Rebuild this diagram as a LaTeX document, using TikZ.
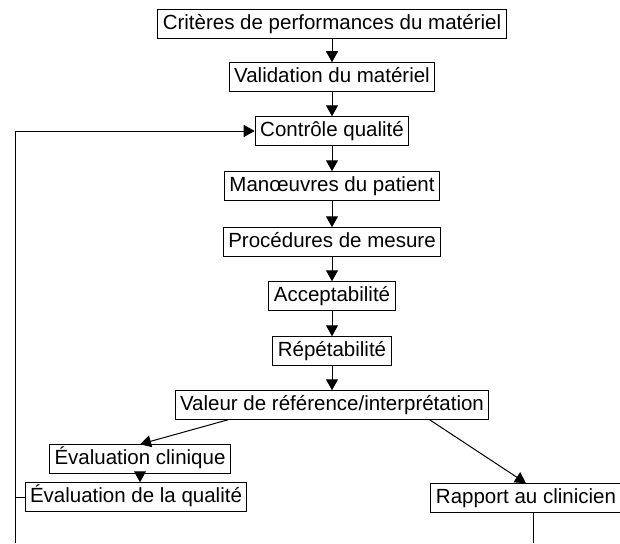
\documentclass[tikz,border=0pt]{standalone}
\usepackage{fontspec}
\setmainfont{Liberation Sans}
\usetikzlibrary{arrows.meta,calc}

\tikzset{
    boite/.style={draw, line width=1pt, inner xsep=5pt, inner ysep=4.5pt,
        text height=15pt, text depth=4.5pt, font=\fontsize{20.5}{24}\selectfont},
    fleche/.style={line width=1pt, -{Triangle[width=12pt,length=11pt]}},
    trait/.style={line width=1pt},
}

\begin{document}
\begin{tikzpicture}[x=1pt,y=-1pt]
    \useasboundingbox (0,0) rectangle (620,543);
    \node[boite] (criteres) at (332,24) {Critères de performances du matériel};
    \node[boite] (validation) at (332,77) {Validation du matériel};
    \node[boite] (controle) at (332,131) {Contrôle qualité};
    \node[boite] (manoeuvres) at (332,186) {Manœuvres du patient};
    \node[boite] (procedures) at (332,242) {Procédures de mesure};
    \node[boite] (acceptabilite) at (332,296) {Acceptabilité};
    \node[boite] (repetabilite) at (332,351) {Répétabilité};
    \node[boite] (valeur) at (332,405) {Valeur de référence/interprétation};
    \node[boite] (evalclin) at (140,459) {Évaluation clinique};
    \node[boite] (evalqual) at (136,497) {Évaluation de la qualité};
    \node[boite] (rapport) at (526,498) {Rapport au clinicien};
    \coordinate (gauche) at (15,543);
    \coordinate (droite) at (533,543);
    \draw[fleche] (criteres) -- (validation);
    \draw[fleche] (validation) -- (controle);
    \draw[fleche] (controle) -- (manoeuvres);
    \draw[fleche] (manoeuvres) -- (procedures);
    \draw[fleche] (procedures) -- (acceptabilite);
    \draw[fleche] (acceptabilite) -- (repetabilite);
    \draw[fleche] (repetabilite) -- (valeur);
    \draw[fleche] ($(valeur.south west)!0.17!(valeur.south east)$) -- (evalclin.north);
    \draw[fleche] ($(valeur.south west)!0.81!(valeur.south east)$) -- (rapport.north);
    \draw[fleche] (evalclin.south) -- (evalclin.south |- evalqual.north);
    % retour vers le controle qualite
    \draw[trait] (evalqual.west) -- (evalqual.west -| gauche);
    \draw[fleche] (gauche) -- (gauche |- controle) -- (controle.west);
    \draw[trait] (droite |- rapport.south) -- (droite);
\end{tikzpicture}
\end{document}
